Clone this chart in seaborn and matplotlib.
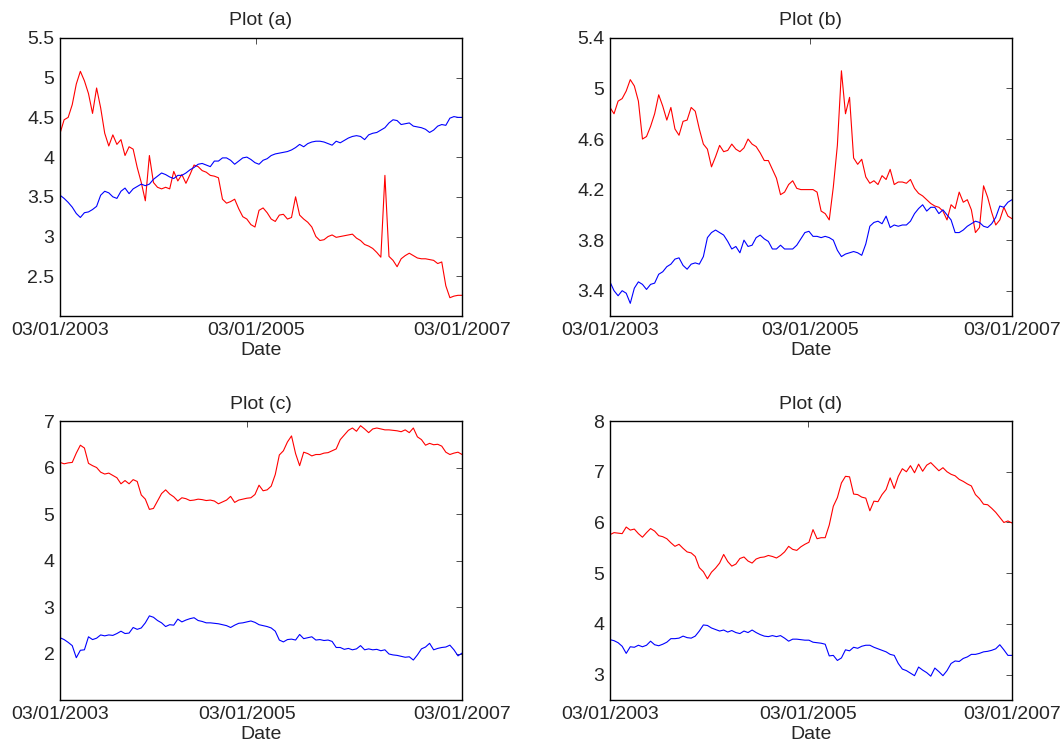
import matplotlib; matplotlib.use('Agg')
import numpy as np
import seaborn as sns
import matplotlib.pyplot as plt

a_red = [4.30, 4.47, 4.50, 4.66, 4.92, 5.08, 4.96, 4.80, 4.55, 4.87,
         4.62, 4.30, 4.14, 4.28, 4.16, 4.22, 4.02, 4.13, 4.10, 3.87,
         3.68, 3.45, 4.02, 3.68, 3.62, 3.60, 3.62, 3.60, 3.82, 3.70,
         3.78, 3.67, 3.78, 3.90, 3.88, 3.83, 3.81, 3.77, 3.76, 3.74,
         3.47, 3.42, 3.44, 3.47, 3.35, 3.25, 3.22, 3.15, 3.12, 3.33,
         3.36, 3.30, 3.22, 3.19, 3.27, 3.28, 3.22, 3.24, 3.50, 3.27,
         3.22, 3.18, 3.12, 3.00, 2.95, 2.96, 3.00, 3.02, 2.99, 3.00,
         3.01, 3.02, 3.03, 2.98, 2.95, 2.90, 2.88, 2.85, 2.80, 2.74,
         3.77, 2.75, 2.70, 2.62, 2.72, 2.76, 2.79, 2.76, 2.73, 2.72,
         2.72, 2.71, 2.70, 2.66, 2.68, 2.38, 2.23, 2.25, 2.26, 2.26]
a_blue = [3.52, 3.48, 3.43, 3.37, 3.29, 3.24, 3.30, 3.31, 3.34, 3.38,
          3.52, 3.57, 3.55, 3.50, 3.48, 3.57, 3.61, 3.54, 3.60, 3.63,
          3.66, 3.64, 3.66, 3.72, 3.76, 3.80, 3.78, 3.75, 3.73, 3.77,
          3.77, 3.80, 3.84, 3.87, 3.91, 3.92, 3.90, 3.88, 3.95, 3.95,
          3.99, 3.99, 3.96, 3.91, 3.95, 3.99, 4.00, 3.97, 3.93, 3.91,
          3.96, 3.98, 4.02, 4.04, 4.05, 4.06, 4.07, 4.09, 4.12, 4.16,
          4.13, 4.17, 4.19, 4.20, 4.20, 4.19, 4.17, 4.15, 4.20, 4.18,
          4.21, 4.24, 4.26, 4.27, 4.26, 4.22, 4.28, 4.30, 4.31, 4.34,
          4.37, 4.43, 4.47, 4.46, 4.41, 4.42, 4.43, 4.39, 4.38, 4.37,
          4.35, 4.31, 4.34, 4.39, 4.41, 4.40, 4.49, 4.51, 4.50, 4.50]

b_red = [4.85, 4.80, 4.90, 4.92, 4.98, 5.07, 5.02, 4.90, 4.60, 4.62,
         4.70, 4.80, 4.95, 4.86, 4.75, 4.85, 4.68, 4.63, 4.74, 4.75,
         4.85, 4.82, 4.68, 4.56, 4.52, 4.38, 4.46, 4.55, 4.50, 4.51,
         4.56, 4.52, 4.50, 4.53, 4.60, 4.56, 4.54, 4.49, 4.43, 4.43,
         4.36, 4.29, 4.16, 4.18, 4.24, 4.27, 4.21, 4.20, 4.20, 4.20,
         4.20, 4.18, 4.03, 4.01, 3.96, 4.22, 4.55, 5.14, 4.80, 4.93,
         4.45, 4.40, 4.44, 4.30, 4.25, 4.27, 4.24, 4.31, 4.28, 4.36,
         4.24, 4.26, 4.26, 4.25, 4.28, 4.21, 4.17, 4.15, 4.12, 4.09,
         4.07, 4.06, 4.03, 3.96, 4.08, 4.05, 4.18, 4.10, 4.12, 4.04,
         3.86, 3.90, 4.23, 4.14, 4.02, 3.92, 3.96, 4.06, 3.99, 3.97]
b_blue = [3.47, 3.40, 3.36, 3.40, 3.38, 3.30, 3.42, 3.47, 3.45, 3.41,
          3.45, 3.46, 3.53, 3.55, 3.59, 3.61, 3.65, 3.66, 3.60, 3.57,
          3.61, 3.62, 3.61, 3.67, 3.82, 3.86, 3.88, 3.86, 3.84, 3.79,
          3.73, 3.75, 3.70, 3.80, 3.75, 3.76, 3.82, 3.84, 3.81, 3.79,
          3.73, 3.73, 3.76, 3.73, 3.73, 3.73, 3.76, 3.81, 3.86, 3.87,
          3.83, 3.83, 3.82, 3.83, 3.82, 3.80, 3.72, 3.67, 3.69, 3.70,
          3.71, 3.70, 3.68, 3.77, 3.91, 3.94, 3.95, 3.93, 3.99, 3.90,
          3.92, 3.91, 3.92, 3.92, 3.95, 4.01, 4.05, 4.08, 4.03, 4.06,
          4.06, 4.01, 4.04, 4.00, 3.96, 3.86, 3.86, 3.88, 3.91, 3.93,
          3.95, 3.94, 3.91, 3.90, 3.93, 3.98, 4.07, 4.06, 4.10, 4.12]

c_red = [6.11, 6.08, 6.10, 6.11, 6.31, 6.48, 6.42, 6.09, 6.04, 6.00,
         5.90, 5.86, 5.88, 5.83, 5.78, 5.65, 5.72, 5.65, 5.74, 5.70,
         5.41, 5.32, 5.10, 5.12, 5.28, 5.44, 5.52, 5.43, 5.37, 5.28,
         5.35, 5.33, 5.29, 5.30, 5.32, 5.31, 5.29, 5.30, 5.28, 5.22,
         5.26, 5.30, 5.38, 5.25, 5.30, 5.32, 5.34, 5.35, 5.42, 5.62,
         5.50, 5.52, 5.60, 5.85, 6.27, 6.36, 6.55, 6.68, 6.30, 6.04,
         6.33, 6.30, 6.25, 6.28, 6.28, 6.31, 6.32, 6.36, 6.40, 6.60,
         6.70, 6.80, 6.85, 6.78, 6.90, 6.83, 6.75, 6.83, 6.85, 6.83,
         6.81, 6.81, 6.80, 6.79, 6.77, 6.81, 6.75, 6.85, 6.66, 6.60,
         6.48, 6.52, 6.49, 6.50, 6.46, 6.33, 6.28, 6.31, 6.33, 6.28]
c_blue = [2.34, 2.30, 2.24, 2.17, 1.91, 2.07, 2.08, 2.36, 2.30, 2.33,
          2.40, 2.38, 2.40, 2.39, 2.43, 2.48, 2.43, 2.44, 2.56, 2.52,
          2.55, 2.66, 2.81, 2.78, 2.71, 2.66, 2.58, 2.62, 2.61, 2.74,
          2.68, 2.72, 2.75, 2.77, 2.71, 2.69, 2.66, 2.66, 2.65, 2.64,
          2.62, 2.60, 2.56, 2.61, 2.65, 2.66, 2.68, 2.70, 2.67, 2.62,
          2.60, 2.58, 2.55, 2.48, 2.29, 2.25, 2.30, 2.31, 2.29, 2.41,
          2.32, 2.34, 2.36, 2.29, 2.30, 2.28, 2.29, 2.26, 2.13, 2.13,
          2.09, 2.11, 2.08, 2.10, 2.17, 2.08, 2.10, 2.08, 2.09, 2.06,
          2.08, 1.99, 1.97, 1.96, 1.94, 1.92, 1.93, 1.86, 1.97, 2.10,
          2.14, 2.22, 2.08, 2.11, 2.13, 2.14, 2.18, 2.08, 1.95, 2.01]

d_red = [5.76, 5.80, 5.79, 5.78, 5.91, 5.85, 5.87, 5.78, 5.71, 5.80,
         5.88, 5.83, 5.74, 5.72, 5.68, 5.60, 5.53, 5.57, 5.49, 5.42,
         5.40, 5.33, 5.11, 5.03, 4.89, 5.02, 5.10, 5.20, 5.37, 5.23,
         5.14, 5.18, 5.29, 5.32, 5.24, 5.20, 5.28, 5.31, 5.32, 5.35,
         5.33, 5.30, 5.35, 5.42, 5.53, 5.47, 5.45, 5.52, 5.57, 5.61,
         5.86, 5.68, 5.70, 5.70, 5.95, 6.32, 6.49, 6.78, 6.91, 6.90,
         6.56, 6.55, 6.50, 6.48, 6.23, 6.42, 6.41, 6.55, 6.65, 6.88,
         6.67, 6.91, 7.06, 7.00, 7.12, 6.98, 7.15, 7.01, 7.13, 7.18,
         7.10, 7.02, 7.08, 7.00, 6.95, 6.92, 6.85, 6.81, 6.76, 6.72,
         6.55, 6.47, 6.36, 6.35, 6.28, 6.20, 6.10, 6.00, 6.03, 5.99]
d_blue = [3.69, 3.67, 3.63, 3.56, 3.42, 3.55, 3.54, 3.58, 3.55, 3.58,
          3.66, 3.59, 3.57, 3.60, 3.64, 3.71, 3.71, 3.72, 3.76, 3.73,
          3.72, 3.76, 3.86, 3.98, 3.97, 3.92, 3.89, 3.86, 3.88, 3.84,
          3.87, 3.83, 3.81, 3.86, 3.83, 3.88, 3.83, 3.79, 3.76, 3.75,
          3.77, 3.75, 3.77, 3.72, 3.66, 3.70, 3.70, 3.69, 3.68, 3.68,
          3.64, 3.63, 3.62, 3.60, 3.37, 3.38, 3.28, 3.33, 3.49, 3.47,
          3.54, 3.52, 3.56, 3.58, 3.58, 3.54, 3.51, 3.48, 3.45, 3.40,
          3.38, 3.22, 3.11, 3.08, 3.03, 2.98, 3.15, 3.09, 3.04, 2.97,
          3.13, 3.06, 2.98, 3.08, 3.22, 3.27, 3.26, 3.32, 3.35, 3.40,
          3.40, 3.42, 3.45, 3.46, 3.48, 3.51, 3.59, 3.49, 3.38, 3.38]

date_labels = ['03/01/2003', '03/01/2005', '03/01/2007']
titles = ['Plot (a)', 'Plot (b)', 'Plot (c)', 'Plot (d)']
series = [(a_red, a_blue), (b_red, b_blue), (c_red, c_blue), (d_red, d_blue)]
# where the middle date falls along each panel's observations
mid_frac = [0.488, 0.498, 0.466, 0.493]
ylims = [(2.0, 5.5), (3.2, 5.4), (1.0, 7.0), (2.5, 8.0)]
yticks = [[2.5, 3, 3.5, 4, 4.5, 5, 5.5],
          [3.4, 3.8, 4.2, 4.6, 5.0, 5.4],
          [2, 3, 4, 5, 6, 7],
          [3, 4, 5, 6, 7, 8]]
ytick_labels = [['2.5', '3', '3.5', '4', '4.5', '5', '5.5'],
                ['3.4', '3.8', '4.2', '4.6', '5', '5.4'],
                ['2', '3', '4', '5', '6', '7'],
                ['3', '4', '5', '6', '7', '8']]

sns.set_style('white')
plt.rcParams['font.family'] = ['Liberation Sans', 'DejaVu Sans']
plt.rcParams['font.size'] = 14

fig = plt.figure(figsize=(10.61, 7.44), dpi=100)
boxes = [[0.0566, 0.5753, 0.3789, 0.3737],
         [0.5749, 0.5753, 0.3789, 0.3737],
         [0.0566, 0.0591, 0.3789, 0.3750],
         [0.5749, 0.0591, 0.3789, 0.3750]]

for k, (red, blue) in enumerate(series):
    ax = fig.add_axes(boxes[k])
    idx = np.arange(len(red))
    sns.lineplot(x=idx, y=red, color='#ff0000', linewidth=0.8, ax=ax)
    sns.lineplot(x=idx, y=blue, color='#0000ff', linewidth=0.8, ax=ax)
    n = len(red) - 1
    ax.set_xlim(0, n)
    ax.set_ylim(*ylims[k])
    ax.set_xticks([0, n * mid_frac[k], n])
    ax.set_xticklabels(date_labels)
    ax.set_yticks(yticks[k])
    ax.set_yticklabels(ytick_labels[k])
    ax.tick_params(direction='in', length=4, width=0.6, color='#333333',
                   top=True, right=True, labelsize=14, pad=4)
    ax.tick_params(axis='x', pad=4)
    for sp in ax.spines.values():
        sp.set_visible(True)
        sp.set_color('black')
        sp.set_linewidth(1.0)
    ax.set_title(titles[k], fontsize=14, pad=9)
    ax.set_xlabel('Date', fontsize=14, labelpad=2.5)
    ax.set_ylabel('')

fig.savefig('out.png', dpi=100)
plt.close(fig)
